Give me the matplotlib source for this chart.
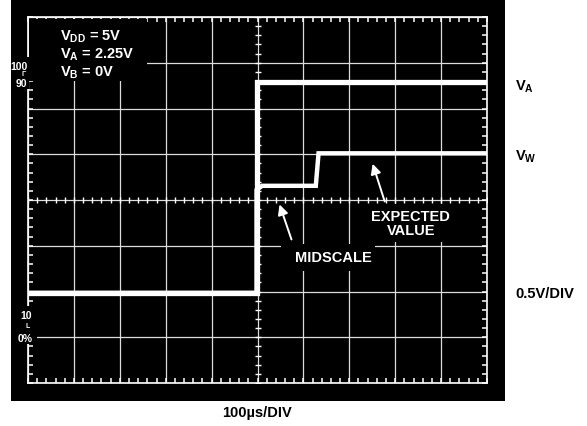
import matplotlib.pyplot as plt
from matplotlib.patches import Rectangle
import numpy as np

plt.rcParams['font.family'] = ['Liberation Sans', 'DejaVu Sans']
plt.rcParams['font.weight'] = 'bold'
plt.rcParams['mathtext.fontset'] = 'custom'
plt.rcParams['mathtext.rm'] = 'Liberation Sans:bold'
plt.rcParams['mathtext.bf'] = 'Liberation Sans:bold'

# scope traces, in divisions (x: 0..10, y: 0..8)
t_va = [0.0, 4.98, 4.98, 10.0]
va = [1.97, 1.97, 6.59, 6.59]
t_vw = [0.0, 4.98, 4.98, 5.1, 6.27, 6.33, 10.0]
vw = [1.97, 1.97, 4.22, 4.31, 4.31, 5.02, 5.02]

n_xdiv = 10
n_ydiv = 8

W, H = 587, 427
fig = plt.figure(figsize=(W / 100, H / 100), dpi=100)
fig.patch.set_facecolor('white')

# black screen area
fig.patches.append(Rectangle((11 / W, 1 - 402 / H), 494 / W, 401 / H,
                             transform=fig.transFigure, facecolor='black',
                             edgecolor='none', zorder=-1))

ax = fig.add_axes([28 / W, 1 - 384 / H, 459 / W, 366 / H])
ax.set_facecolor('black')
ax.set_xlim(0, n_xdiv)
ax.set_ylim(0, n_ydiv)

# graticule
ax.set_xticks(np.arange(0, n_xdiv + 1))
ax.set_yticks(np.arange(0, n_ydiv + 1))
ax.set_xticks(np.arange(0, n_xdiv + 0.01, 0.2), minor=True)
ax.set_yticks(np.arange(0, n_ydiv + 0.01, 0.2), minor=True)
ax.tick_params(which='both', direction='in', length=3.5, width=1.1,
               color='white', top=True, right=True,
               labelbottom=False, labelleft=False)
ax.grid(True, which='major', color='#dcdcdc', linewidth=0.9)
for s in ax.spines.values():
    s.set_color('white')
    s.set_linewidth(1.2)

# centre cross ticks
minor_x = np.arange(0, n_xdiv + 0.01, 0.2)
minor_y = np.arange(0, n_ydiv + 0.01, 0.2)
ax.plot(minor_x, np.full_like(minor_x, n_ydiv / 2), linestyle='none',
        marker='|', ms=3.8, mew=1.0, color='white', zorder=2)
ax.plot(np.full_like(minor_y, n_xdiv / 2), minor_y, linestyle='none',
        marker='_', ms=3.8, mew=1.0, color='white', zorder=2)

# traces
ax.plot(t_va, va, color='white', lw=3.8, solid_joinstyle='miter', zorder=3)
ax.plot(t_vw, vw, color='white', lw=3.2, solid_joinstyle='miter', zorder=3)

# black boxes behind the annotations (hide graticule like the scope does)
ax.add_patch(Rectangle((0.03, 6.6), 2.57, 1.36, facecolor='black',
                       edgecolor='none', zorder=4))
ax.add_patch(Rectangle((5.52, 2.45), 2.03, 0.59, facecolor='black',
                       edgecolor='none', zorder=4))
ax.add_patch(Rectangle((7.34, 3.08), 1.96, 0.83, facecolor='black',
                       edgecolor='none', zorder=4))
ax.add_patch(Rectangle((-0.37, 6.43), 0.39, 0.7, facecolor='black',
                       edgecolor='none', zorder=4, clip_on=False))
ax.add_patch(Rectangle((-0.37, 0.85), 0.56, 0.83, facecolor='black',
                       edgecolor='none', zorder=4, clip_on=False))

# supply text
txt = dict(color='white', fontsize=10.5, fontweight='bold', zorder=5)
ax.text(0.7, 7.6, r'V$_{\mathbf{DD}}$ = 5V', va='center', **txt)
ax.text(0.7, 7.2, r'V$_{\mathbf{A}}$ = 2.25V', va='center', **txt)
ax.text(0.7, 6.8, r'V$_{\mathbf{B}}$ = 0V', va='center', **txt)

# 100/90 and 10/0% markers
lbl = dict(color='white', fontsize=7.5, fontweight='bold', ha='center',
           va='center', zorder=5, clip_on=False)
ax.text(-0.2, 6.93, '100', **lbl)
ax.text(-0.09, 6.76, 'Γ', color='white', fontsize=5, ha='center',
        va='center', zorder=5, clip_on=False)
ax.text(-0.14, 6.56, '90', **lbl)
ax.text(-0.04, 1.48, '10', **lbl)
ax.text(0.0, 1.26, 'L', color='white', fontsize=5, ha='center',
        va='center', zorder=5, clip_on=False)
ax.text(-0.07, 0.99, '0%', **lbl)

# callouts
arr = dict(arrowstyle='-|>', color='white', lw=1.4, mutation_scale=15)
ax.annotate('', xy=(5.46, 3.96), xytext=(5.76, 3.08), arrowprops=arr,
            zorder=5)
ax.annotate('', xy=(7.49, 4.85), xytext=(7.79, 3.91), arrowprops=arr,
            zorder=5)
ax.text(6.65, 2.75, 'MIDSCALE', color='white', fontsize=10.5, ha='center',
        va='center', zorder=5)
ax.text(8.34, 3.5, 'EXPECTED\nVALUE', color='white', fontsize=10.5,
        ha='center', va='center', linespacing=1.0, zorder=5)

# labels outside the screen
fig.text(515 / W, 1 - 87 / H, r'V$_{\mathbf{A}}$', fontsize=10.5, va='center')
fig.text(515 / W, 1 - 157 / H, r'V$_{\mathbf{W}}$', fontsize=10.5, va='center')
fig.text(515 / W, 1 - 294 / H, '0.5V/DIV', fontsize=10.5, va='center')
fig.text(257 / W, 1 - 413 / H, '100µs/DIV', fontsize=10.5, ha='center',
         va='center')

fig.savefig('out.png', dpi=100, facecolor='white')
